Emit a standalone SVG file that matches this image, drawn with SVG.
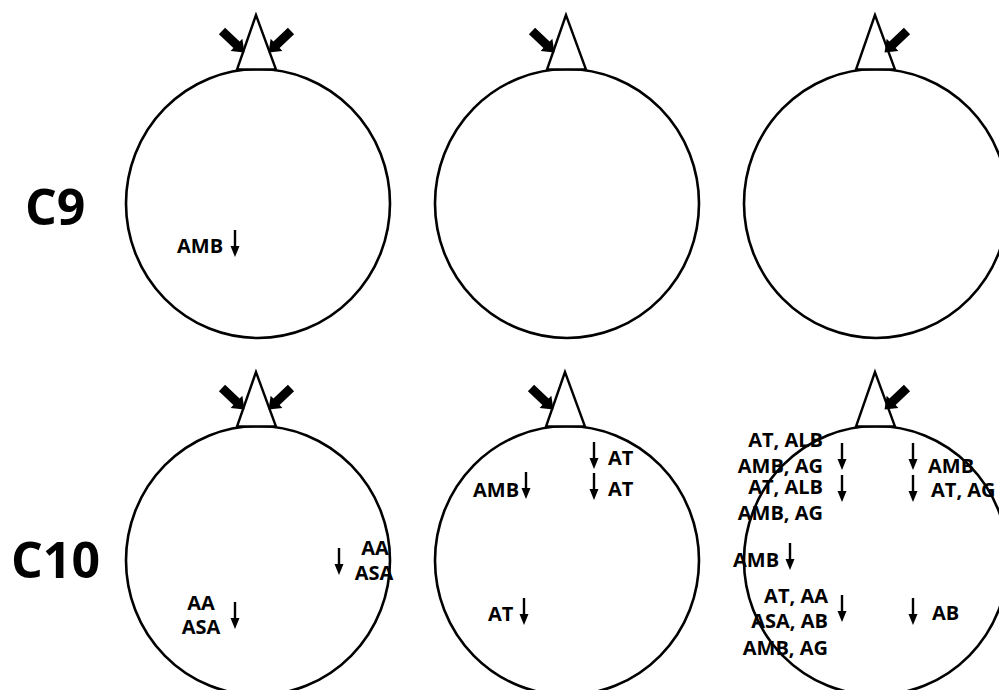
<svg xmlns="http://www.w3.org/2000/svg" xmlns:xlink="http://www.w3.org/1999/xlink" width="999" height="690" viewBox="0 0 999 690">
<style>
.c{fill:none;stroke:#000;stroke-width:2.6}
.t{fill:#fff;stroke:#000;stroke-width:2.4;stroke-linejoin:miter}
.lb{font-family:"Open Sans","Noto Sans","DejaVu Sans",sans-serif;font-weight:700;font-size:20px;fill:#000}
.big{font-family:"Open Sans","Noto Sans","DejaVu Sans",sans-serif;font-weight:700;font-size:50px;fill:#000}
.e{text-anchor:end}
.m{text-anchor:middle}
</style>
<defs>
<g id="dn"><path d="M0,0V18" stroke="#000" stroke-width="2.4"/><path d="M-4.5,16H4.5L0,27Z" fill="#000"/></g>
<path id="big" d="M0,-4.5H20V-8.5L31,0L20,8.5V4.5H0Z" fill="#000"/>
</defs>
<rect width="999" height="690" fill="#fff"/>
<text class="big" x="25" y="225">C9</text>
<text class="big" x="11" y="578">C10</text>

<g id="c9a">
<ellipse class="c" cx="258" cy="203.5" rx="132" ry="134.5"/>
<polygon class="t" points="256,15 237,69.5 276,69.5"/>
</g>
<g id="c9b">
<ellipse class="c" cx="567" cy="203.5" rx="132" ry="134.5"/>
<polygon class="t" points="566,15 547,69.5 586,69.5"/>
</g>
<g id="c9c">
<ellipse class="c" cx="876" cy="203.5" rx="132" ry="134.5"/>
<polygon class="t" points="875,15 856,69.5 895,69.5"/>
</g>
<g id="c10a">
<ellipse class="c" cx="258" cy="560.5" rx="132" ry="134.5"/>
<polygon class="t" points="256,372 237,426.5 276,426.5"/>
</g>
<g id="c10b">
<ellipse class="c" cx="567" cy="560.5" rx="132" ry="134.5"/>
<polygon class="t" points="565,372 546,426.5 585,426.5"/>
</g>
<g id="c10c">
<ellipse class="c" cx="876" cy="560.5" rx="132" ry="134.5"/>
<polygon class="t" points="875,372 856,426.5 895,426.5"/>
</g>

<g id="connectors">
<use xlink:href="#big" transform="translate(222,31) rotate(43.6)"/>
<use xlink:href="#big" transform="translate(291,31) rotate(136.4)"/>
<use xlink:href="#big" transform="translate(532,31) rotate(43.6)"/>
<use xlink:href="#big" transform="translate(907,31) rotate(136.4)"/>
<use xlink:href="#big" transform="translate(222,388) rotate(43.6)"/>
<use xlink:href="#big" transform="translate(291,388) rotate(136.4)"/>
<use xlink:href="#big" transform="translate(531,388) rotate(43.6)"/>
<use xlink:href="#big" transform="translate(907,388) rotate(136.4)"/>

<use xlink:href="#dn" x="235" y="230"/>
<use xlink:href="#dn" x="339" y="548"/>
<use xlink:href="#dn" x="235" y="602"/>
<use xlink:href="#dn" x="526" y="472"/>
<use xlink:href="#dn" x="594" y="442"/>
<use xlink:href="#dn" x="594" y="473"/>
<use xlink:href="#dn" x="524" y="598"/>
<use xlink:href="#dn" x="842" y="443"/>
<use xlink:href="#dn" x="842" y="475"/>
<use xlink:href="#dn" x="913" y="443"/>
<use xlink:href="#dn" x="913" y="475"/>
<use xlink:href="#dn" x="790" y="543"/>
<use xlink:href="#dn" x="842" y="595"/>
<use xlink:href="#dn" x="913" y="598"/>
</g>

<g id="labels">
<text class="lb" x="177" y="253">AMB</text>
<text class="lb m" x="375" y="555">AA</text>
<text class="lb m" x="374" y="580">ASA</text>
<text class="lb m" x="201" y="610">AA</text>
<text class="lb m" x="201" y="634">ASA</text>
<text class="lb" x="473" y="497">AMB</text>
<text class="lb" x="608" y="465">AT</text>
<text class="lb" x="608" y="496">AT</text>
<text class="lb" x="488" y="621">AT</text>
<text class="lb e" x="823" y="447">AT, ALB</text>
<text class="lb e" x="823" y="473">AMB, AG</text>
<text class="lb e" x="823" y="494">AT, ALB</text>
<text class="lb e" x="823" y="520">AMB, AG</text>
<text class="lb" x="928" y="473">AMB</text>
<text class="lb" x="931" y="497">AT, AG</text>
<text class="lb" x="733" y="567">AMB</text>
<text class="lb e" x="828" y="603">AT, AA</text>
<text class="lb e" x="828" y="628">ASA, AB</text>
<text class="lb e" x="828" y="655">AMB, AG</text>
<text class="lb" x="932" y="620">AB</text>
</g>
</svg>
